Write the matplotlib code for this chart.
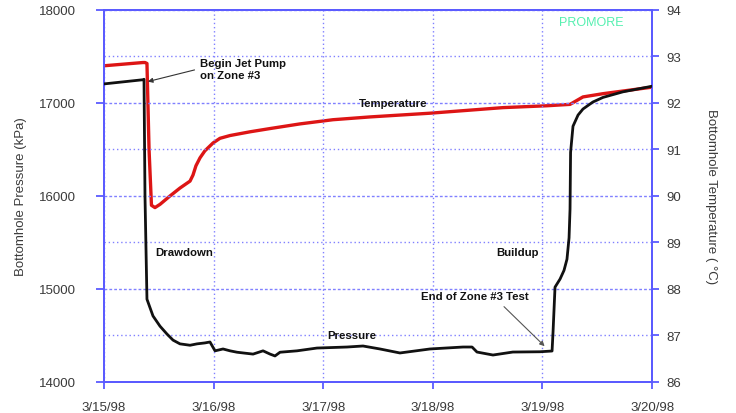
import matplotlib
matplotlib.use("Agg")
import matplotlib.pyplot as plt
from matplotlib.ticker import MultipleLocator, FixedLocator

plt.rcParams['font.family'] = ['Liberation Sans', 'DejaVu Sans']

# Elapsed time in days from 3/15/98 00:00
p_days = [0.0, 0.356, 0.365, 0.374, 0.392, 0.447, 0.511, 0.575, 0.63, 0.693,
          0.785, 0.849, 0.92, 0.967, 1.013, 1.086, 1.15, 1.214, 1.286, 1.36,
          1.451, 1.515, 1.56, 1.606, 1.761, 1.943, 2.217, 2.363, 2.518, 2.70,
          2.974, 3.276, 3.358, 3.403, 3.549, 3.73, 3.978, 4.088, 4.097, 4.115,
          4.161, 4.197, 4.224, 4.243, 4.252, 4.257, 4.279, 4.325, 4.37, 4.46,
          4.553, 4.735, 5.0]
pressure_kpa = [17205, 17250, 17255, 16000, 14890, 14710, 14600, 14515, 14450, 14410,
                14395, 14410, 14420, 14430, 14335, 14355, 14335, 14320, 14310, 14300,
                14335, 14300, 14280, 14320, 14335, 14365, 14376, 14387, 14355, 14312,
                14355, 14376, 14376, 14322, 14290, 14322, 14325, 14333, 14540, 15020,
                15107, 15200, 15320, 15550, 15860, 16470, 16750, 16870, 16935, 17010,
                17060, 17120, 17180]

t_days = [0.0, 0.356, 0.374, 0.392, 0.411, 0.433, 0.465, 0.511, 0.602, 0.693,
          0.785, 0.812, 0.839, 0.876, 0.92, 0.995, 1.058, 1.15, 1.332, 1.515,
          1.788, 2.089, 2.427, 2.974, 3.64, 4.04, 4.252, 4.37, 4.553, 5.0]
temperature_c = [92.80, 92.87, 92.87, 92.85, 91.0, 89.8, 89.75, 89.82, 90.0, 90.17,
                 90.32, 90.45, 90.65, 90.82, 90.97, 91.14, 91.24, 91.30, 91.38, 91.45,
                 91.55, 91.64, 91.70, 91.78, 91.90, 91.94, 91.97, 92.13, 92.20, 92.34]

day_ticks = [0, 1, 2, 3, 4, 5]
day_labels = ["3/15/98", "3/16/98", "3/17/98", "3/18/98", "3/19/98", "3/20/98"]

axis_blue = "#5a5aff"
grid_blue = "#8080ff"
label_grey = "#3a3a3a"

fig = plt.figure(figsize=(7.36, 4.14), dpi=100)
ax = fig.add_axes([0.1413, 0.0749, 0.7446, 0.8986])
ax2 = ax.twinx()

ax.set_xlim(0, 5)
ax.set_ylim(14000, 18000)
ax2.set_ylim(86, 94)

# grid
ax.yaxis.set_major_locator(MultipleLocator(1000))
ax.yaxis.set_minor_locator(MultipleLocator(500))
ax.xaxis.set_major_locator(FixedLocator(day_ticks))
ax.set_xticklabels(day_labels)
ax.grid(True, which='major', axis='y', color=grid_blue, linestyle=(0, (2, 1.5)), linewidth=1.0)
ax.grid(True, which='minor', axis='y', color=grid_blue, linestyle=(0, (1, 2)), linewidth=1.0)
ax.grid(True, which='major', axis='x', color=grid_blue, linestyle=(0, (1, 2)), linewidth=1.0)
ax.tick_params(axis='y', which='minor', length=0)
ax.set_axisbelow(True)

ax2.yaxis.set_major_locator(MultipleLocator(1))

# data
ax2.plot(t_days, temperature_c, color="#dd1515", linewidth=2.4, zorder=3)
ax.plot(p_days, pressure_kpa, color="#111111", linewidth=2.0, zorder=4)
ax.set_zorder(ax2.get_zorder() + 1)
ax.patch.set_visible(False)

for a in (ax, ax2):
    for s in a.spines.values():
        s.set_color(axis_blue)
        s.set_linewidth(1.3)

ax.tick_params(axis='y', which='major', color=axis_blue, length=6, width=1.3,
               pad=14, labelsize=9.5, labelcolor=label_grey)
ax.tick_params(axis='x', color=axis_blue, length=5, width=1.3, pad=9,
               labelsize=9.5, labelcolor=label_grey)
ax2.tick_params(axis='y', color=axis_blue, length=5, width=1.3, pad=5,
                labelsize=9.5, labelcolor=label_grey)

ax.set_ylabel("Bottomhole Pressure (kPa)", fontsize=9.5, color=label_grey, labelpad=9)
ax2.set_ylabel("Bottomhole Temperature ( °C)", fontsize=9.5, color=label_grey,
               rotation=-90, labelpad=26)

# annotations
note = dict(fontsize=8.2, fontweight='bold', color='#111111')
ax.annotate("Begin Jet Pump\non Zone #3", xy=(0.40, 17230), xytext=(0.876, 17370),
            ha='left', va='center', linespacing=1.25,
            arrowprops=dict(arrowstyle='-|>', color='#333333', lw=0.8,
                            mutation_scale=7, relpos=(0, 0.5), shrinkA=2, shrinkB=0),
            zorder=6, **note)
ax.annotate("End of Zone #3 Test", xy=(4.02, 14385), xytext=(3.38, 14925),
            ha='center', va='center',
            arrowprops=dict(arrowstyle='-|>', color='#555555', lw=0.8,
                            mutation_scale=7, relpos=(0.72, 0), shrinkA=3, shrinkB=0),
            zorder=6, **note)
ax.text(0.465, 15398, "Drawdown", ha='left', va='center', zorder=6, **note)
ax.text(2.637, 17000, "Temperature", ha='center', va='center', zorder=6, **note)
ax.text(2.035, 14505, "Pressure", ha='left', va='center', zorder=6, **note)
ax.text(3.773, 15398, "Buildup", ha='center', va='center', zorder=6, **note)
ax.text(0.8896, 0.9677, "PROMORE", transform=ax.transAxes, ha='center', va='center',
        fontsize=9, color="#55f0b0", zorder=6)

fig.savefig("out.png", dpi=100)
